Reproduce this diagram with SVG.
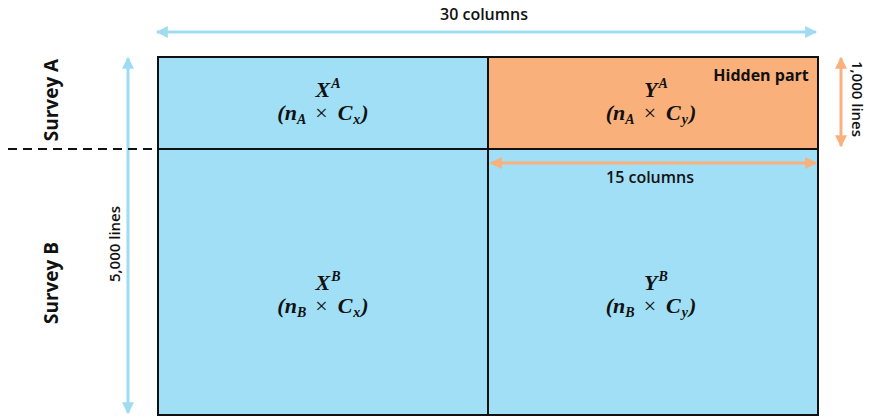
<svg xmlns="http://www.w3.org/2000/svg" width="869" height="419" viewBox="0 0 869 419">
<defs>
<marker id="ab" viewBox="0 0 10 10" refX="9" refY="5" markerWidth="4" markerHeight="4" orient="auto-start-reverse"><path d="M0,0 L10,5 L0,10 z" fill="#9fdcf4"/></marker>
<marker id="ao" viewBox="0 0 10 10" refX="9" refY="5" markerWidth="4" markerHeight="4" orient="auto-start-reverse"><path d="M0,0 L10,5 L0,10 z" fill="#f8b07c"/></marker>
</defs>
<style>
.lbl{font-family:"Open Sans","Liberation Sans",sans-serif;font-weight:bold;font-size:19px;fill:#111}
.lbl2{font-family:"Open Sans","Liberation Sans",sans-serif;font-weight:600;font-size:16px;fill:#111}
.m{font-family:"Liberation Serif",serif;font-weight:bold;font-style:italic;font-size:22px;fill:#111}
.sub{font-size:14px}
.x{font-style:normal;font-weight:normal}
.blue{fill:#a0dff6;stroke:#111;stroke-width:2}
.orange{fill:#fab07b;stroke:#111;stroke-width:2}
.ab{stroke:#9fdcf4;stroke-width:3;fill:none}
.ao{stroke:#f8b07c;stroke-width:3;fill:none}
</style>
<g id="XA"><rect class="blue" x="158" y="57" width="330" height="92"/>
<text class="m" x="328" y="97" text-anchor="middle">X<tspan class="sub" dy="-9" dx="1">A</tspan></text>
<text class="m" x="323" y="120" text-anchor="middle">(n<tspan class="sub" dy="4">A</tspan><tspan class="x" dy="-4" dx="9">×</tspan><tspan dx="10">C</tspan><tspan class="sub" dy="4" dx="1">x</tspan><tspan dy="-4" dx="1">)</tspan></text></g>
<g id="YA"><rect class="orange" x="488" y="57" width="330" height="92"/>
<text class="m" x="656" y="97" text-anchor="middle">Y<tspan class="sub" dy="-9" dx="1">A</tspan></text>
<text class="m" x="651" y="120" text-anchor="middle">(n<tspan class="sub" dy="4">A</tspan><tspan class="x" dy="-4" dx="9">×</tspan><tspan dx="10">C</tspan><tspan class="sub" dy="4" dx="1">y</tspan><tspan dy="-4" dx="1">)</tspan></text>
<text class="lbl2" x="761" y="81" text-anchor="middle" style="font-weight:bold">Hidden part</text></g>
<g id="XB"><rect class="blue" x="158" y="149" width="330" height="266"/>
<text class="m" x="328" y="290" text-anchor="middle">X<tspan class="sub" dy="-9" dx="1">B</tspan></text>
<text class="m" x="323" y="313" text-anchor="middle">(n<tspan class="sub" dy="4">B</tspan><tspan class="x" dy="-4" dx="9">×</tspan><tspan dx="10">C</tspan><tspan class="sub" dy="4" dx="1">x</tspan><tspan dy="-4" dx="1">)</tspan></text></g>
<g id="YB"><rect class="blue" x="488" y="149" width="330" height="266"/>
<text class="m" x="656" y="290" text-anchor="middle">Y<tspan class="sub" dy="-9" dx="1">B</tspan></text>
<text class="m" x="651" y="313" text-anchor="middle">(n<tspan class="sub" dy="4">B</tspan><tspan class="x" dy="-4" dx="9">×</tspan><tspan dx="10">C</tspan><tspan class="sub" dy="4" dx="1">y</tspan><tspan dy="-4" dx="1">)</tspan></text></g>
<g id="connectors">
<line class="ab" x1="157" y1="32" x2="816" y2="32" marker-start="url(#ab)" marker-end="url(#ab)"/>
<line class="ab" x1="128" y1="58" x2="128" y2="413" marker-start="url(#ab)" marker-end="url(#ab)"/>
<line class="ao" x1="841" y1="58" x2="841" y2="146" marker-start="url(#ao)" marker-end="url(#ao)"/>
<line class="ao" x1="491" y1="163" x2="816" y2="163" marker-start="url(#ao)" marker-end="url(#ao)"/>
<line x1="8" y1="149" x2="158" y2="149" stroke="#111" stroke-width="2" stroke-dasharray="9,6"/>
</g>
<g id="labels">
<text class="lbl2" x="484" y="20" text-anchor="middle">30 columns</text>
<text class="lbl2" x="650" y="183" text-anchor="middle">15 columns</text>
<text class="lbl2" transform="translate(120,244) rotate(-90)" text-anchor="middle" style="font-size:15px">5,000 lines</text>
<text class="lbl2" transform="translate(852,99) rotate(90)" text-anchor="middle" style="font-size:15px">1,000 lines</text>
<text class="lbl" transform="translate(58,100) rotate(-90)" text-anchor="middle">Survey A</text>
<text class="lbl" transform="translate(58,283) rotate(-90)" text-anchor="middle">Survey B</text>
</g>
</svg>
